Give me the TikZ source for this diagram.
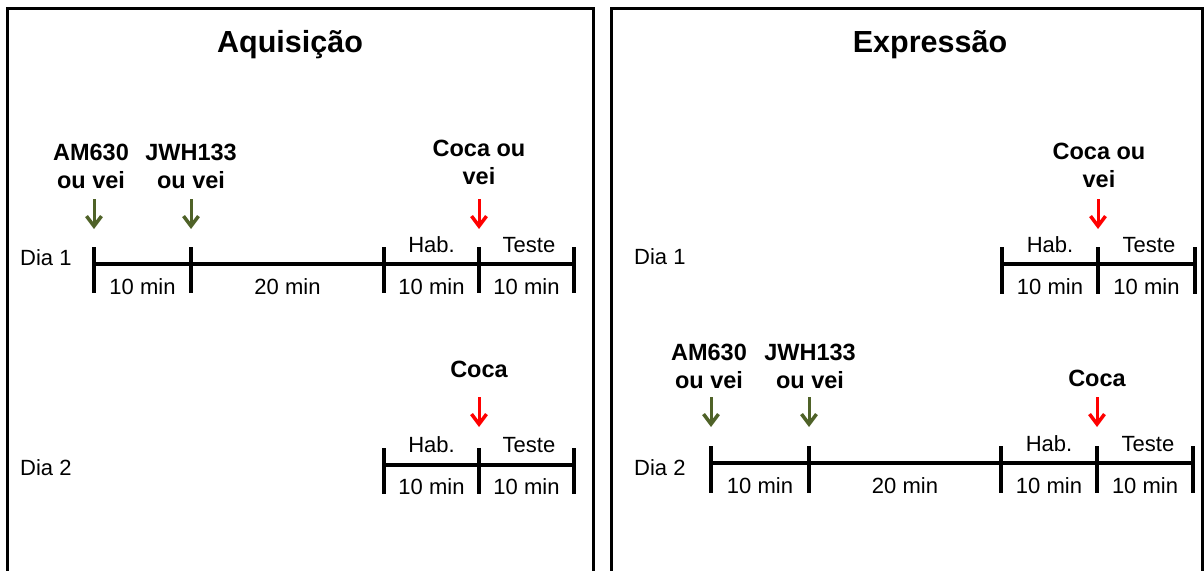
\documentclass[tikz,border=0pt]{standalone}
\usepackage{fontspec}
\setmainfont{Liberation Sans}
\usetikzlibrary{arrows.meta}
\definecolor{olivedrug}{RGB}{79,98,40}
\begin{document}
\begin{tikzpicture}[x=1pt,y=-1pt,
  frame/.style={line width=3pt},
  tline/.style={line width=4pt},
  tickmark/.style={line width=4.5pt},
  drug/.style={font=\bfseries\fontsize{23.5}{28}\selectfont, align=center, anchor=south, inner sep=0pt},
  seg/.style={font=\fontsize{22}{26}\selectfont, anchor=base, inner sep=0pt},
  day/.style={font=\fontsize{22}{26}\selectfont, anchor=base west, inner sep=0pt},
  ttl/.style={font=\bfseries\fontsize{30.5}{36}\selectfont, anchor=base, inner sep=0pt},
  garrow/.style={draw=olivedrug, line width=3pt, -{Straight Barb[length=10pt,width=15pt,line width=3.5pt]}},
  rarrow/.style={draw=red, line width=3pt, -{Straight Barb[length=10pt,width=15pt,line width=3.5pt]}}
]
\useasboundingbox (0,0) rectangle (1204,570);
\clip (0,0) rectangle (1204,570);
% frames
\draw[frame] (7,600) -- (7,8) -- (593,8) -- (593,600);
\draw[frame] (611,600) -- (611,8) -- (1202,8) -- (1202,600);
% titles
\node[ttl] (t1) at (290,52) {Aquisição};
\node[ttl] (t2) at (930,52) {Expressão};

% ---------- Left, Dia 1 ----------
\node[day] (ld1) at (20,265) {Dia 1};
\foreach \n/\x in {a/94,b/191,c/384,d/479,e/574}{
  \coordinate (L1\n) at (\x,264);
  \draw[tickmark] (\x,247) -- (\x,293);
}
\draw[tline] (L1a) -- (L1e);
\node[seg] (l1s1) at (142.5,294) {10 min};
\node[seg] (l1s2) at (287.5,294) {20 min};
\node[seg] (l1s3) at (431.5,294) {10 min};
\node[seg] (l1s4) at (526.5,294) {10 min};
\node[seg] (l1h) at (431.5,252) {Hab.};
\node[seg] (l1t) at (529,252) {Teste};
\node[drug] (l1am) at (91,189) {AM630\\ou vei};
\node[drug] (l1jw) at (191,189) {JWH133\\ou vei};
\node[drug] (l1co) at (479,185) {Coca ou\\vei};
\coordinate (l1amA) at (94,199); \coordinate (l1amB) at (94,229);
\coordinate (l1jwA) at (191,199); \coordinate (l1jwB) at (191,229);
\coordinate (l1coA) at (479,199); \coordinate (l1coB) at (479,229);
\draw[garrow] (l1amA) -- (l1amB);
\draw[garrow] (l1jwA) -- (l1jwB);
\draw[rarrow] (l1coA) -- (l1coB);

% ---------- Left, Dia 2 ----------
\node[day] (ld2) at (20,475) {Dia 2};
\foreach \n/\x in {c/384,d/479,e/574}{
  \coordinate (L2\n) at (\x,465);
  \draw[tickmark] (\x,448) -- (\x,494);
}
\draw[tline] (L2c) -- (L2e);
\node[seg] (l2s3) at (431.5,494) {10 min};
\node[seg] (l2s4) at (526.5,494) {10 min};
\node[seg] (l2h) at (431.5,452) {Hab.};
\node[seg] (l2t) at (529,452) {Teste};
\node[drug] (l2co) at (479,378) {Coca};
\coordinate (l2coA) at (479,397); \coordinate (l2coB) at (479,427);
\draw[rarrow] (l2coA) -- (l2coB);

% ---------- Right, Dia 1 ----------
\node[day] (rd1) at (634,264) {Dia 1};
\foreach \n/\x in {c/1002,d/1098,e/1195}{
  \coordinate (R1\n) at (\x,264);
  \draw[tickmark] (\x,247) -- (\x,294);
}
\draw[tline] (R1c) -- (R1e);
\node[seg] (r1s3) at (1050,294) {10 min};
\node[seg] (r1s4) at (1146.5,294) {10 min};
\node[seg] (r1h) at (1050,252) {Hab.};
\node[seg] (r1t) at (1149,252) {Teste};
\node[drug] (r1co) at (1099,188) {Coca ou\\vei};
\coordinate (r1coA) at (1098,199); \coordinate (r1coB) at (1098,229);
\draw[rarrow] (r1coA) -- (r1coB);

% ---------- Right, Dia 2 ----------
\node[day] (rd2) at (634,475) {Dia 2};
\foreach \n/\x in {a/711,b/809,c/1001,d/1097,e/1193}{
  \coordinate (R2\n) at (\x,463);
  \draw[tickmark] (\x,446) -- (\x,493);
}
\draw[tline] (R2a) -- (R2e);
\node[seg] (r2s1) at (760,493) {10 min};
\node[seg] (r2s2) at (905,493) {20 min};
\node[seg] (r2s3) at (1049,493) {10 min};
\node[seg] (r2s4) at (1145,493) {10 min};
\node[seg] (r2h) at (1049,451) {Hab.};
\node[seg] (r2t) at (1148,451) {Teste};
\node[drug] (r2am) at (709,389) {AM630\\ou vei};
\node[drug] (r2jw) at (810,389) {JWH133\\ou vei};
\node[drug] (r2co) at (1097,387) {Coca};
\coordinate (r2amA) at (711,397); \coordinate (r2amB) at (711,427);
\coordinate (r2jwA) at (809,397); \coordinate (r2jwB) at (809,427);
\coordinate (r2coA) at (1097,397); \coordinate (r2coB) at (1097,427);
\draw[garrow] (r2amA) -- (r2amB);
\draw[garrow] (r2jwA) -- (r2jwB);
\draw[rarrow] (r2coA) -- (r2coB);
\end{tikzpicture}
\end{document}
